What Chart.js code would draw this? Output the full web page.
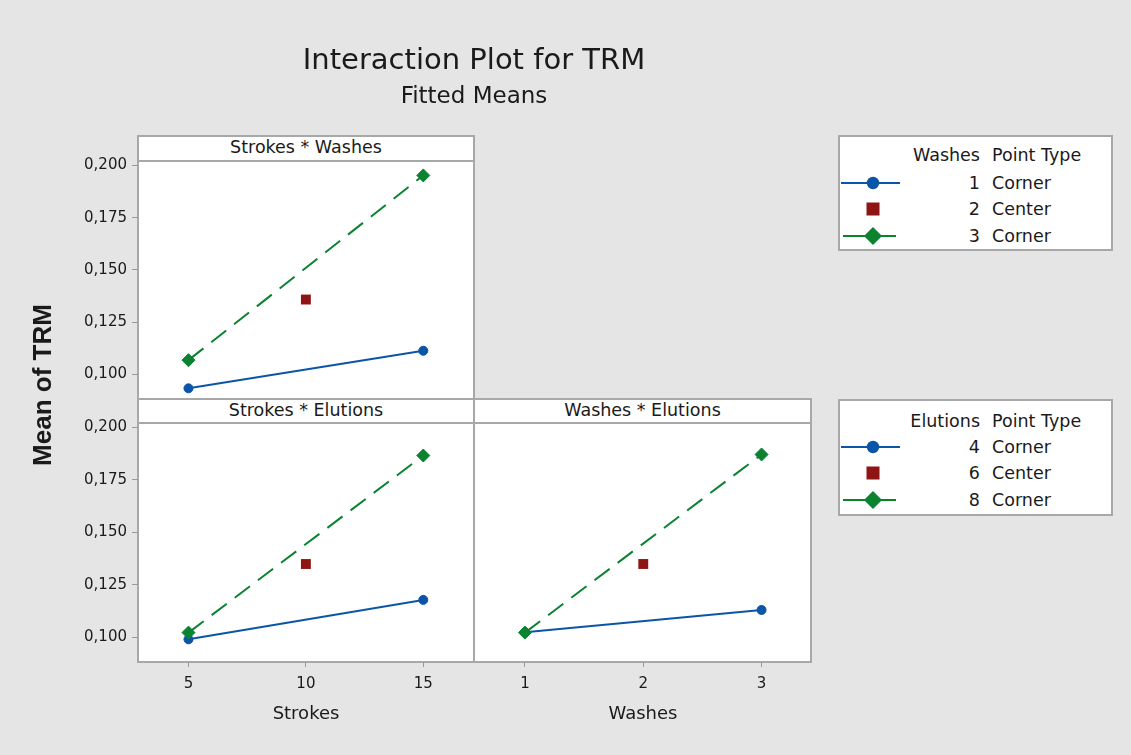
<!DOCTYPE html>
<html>
<head>
<meta charset="utf-8">
<title>Interaction Plot for TRM</title>
<script src="https://cdn.jsdelivr.net/npm/chart.js@4/dist/chart.umd.min.js"></script>
<style>
  html, body { margin: 0; padding: 0; }
  body { width: 1131px; height: 755px; background: #e5e5e5; position: relative; overflow: hidden;
         font-family: "DejaVu Sans", sans-serif; color: #1a1a1a; }
  canvas.layer { position: absolute; left: 0; top: 0; }
  .txt { position: absolute; white-space: nowrap; }
  .strip { position: absolute; box-sizing: border-box; background: #fff; border: 2px solid #a8a8a8;
           text-align: center; font-size: 17.5px; line-height: 20px; }
  .legend { position: absolute; box-sizing: border-box; background: #fff; border: 2px solid #a8a8a8; }
</style>
</head>
<body>
<canvas id="c1" class="layer" width="1131" height="755"></canvas>
<canvas id="c2" class="layer" width="1131" height="755"></canvas>
<canvas id="c3" class="layer" width="1131" height="755"></canvas>

<script>
// Factor levels
const strokesLevels = [5, 10, 15];
const washesLevels = [1, 2, 3];
const elutionsLevels = [4, 6, 8];
const pointTypes = ['Corner', 'Center', 'Corner'];
const yTicks = [0.100, 0.125, 0.150, 0.175, 0.200];

// Fitted means: corner series at low/high level, center point at middle level
// Strokes * Washes
const swWashes1 = [0.0933, 0.1113];
const swWashes2 = [0.1358];
const swWashes3 = [0.1068, 0.1952];
// Strokes * Elutions
const seElutions4 = [0.0990, 0.1178];
const seElutions6 = [0.1349];
const seElutions8 = [0.1022, 0.1866];
// Washes * Elutions
const weElutions4 = [0.1024, 0.1130];
const weElutions6 = [0.1349];
const weElutions8 = [0.1022, 0.1871];

const BLUE = '#0b55a8', RED = '#8f1515', GREEN = '#0a8230';
const FRAME = '#a8a8a8';
const FONT = 'DejaVu Sans';

const Y_MIN = 0.0882, Y_MAX = 0.2021;
const fmtY = v => Number(v).toFixed(3).replace('.', ',');

const panelFrame = {
  id: 'panelFrame',
  beforeDraw(chart) {
    const { ctx, chartArea: a } = chart;
    ctx.save();
    ctx.fillStyle = '#ffffff';
    ctx.fillRect(a.left, a.top, a.right - a.left, a.bottom - a.top);
    ctx.strokeStyle = FRAME;
    ctx.lineWidth = 2;
    ctx.strokeRect(a.left, a.top, a.right - a.left, a.bottom - a.top);
    ctx.restore();
  }
};

function series(levels, lo, mid, hi) {
  const low = levels[0], center = levels[1], high = levels[2];
  return [
    { label: 'high', data: [{ x: low, y: hi[0] }, { x: high, y: hi[1] }], showLine: true,
      borderColor: GREEN, backgroundColor: GREEN, borderWidth: 2, borderDash: [19, 10],
      pointStyle: 'rectRot', pointRadius: 6.5, pointBorderWidth: 1, order: 0 },
    { label: 'center', data: [{ x: center, y: mid[0] }], showLine: false,
      borderColor: RED, backgroundColor: RED, pointStyle: 'rect', pointRadius: 7, pointBorderWidth: 0, order: 1 },
    { label: 'low', data: [{ x: low, y: lo[0] }, { x: high, y: lo[1] }], showLine: true,
      borderColor: BLUE, backgroundColor: BLUE, borderWidth: 2,
      pointStyle: 'circle', pointRadius: 4.5, pointBorderWidth: 1, order: 2 }
  ];
}

function yAxis(show) {
  return {
    type: 'linear', min: Y_MIN, max: Y_MAX, display: show,
    afterBuildTicks: s => { s.ticks = yTicks.map(v => ({ value: v })); },
    afterFit: s => { s.width = show ? 58 : 0; },
    border: { display: false },
    grid: { drawOnChartArea: false, drawTicks: true, tickLength: 6, color: '#9a9a9a', lineWidth: 1 },
    ticks: { font: { family: FONT, size: 15 }, color: '#1a1a1a', padding: 5, callback: v => fmtY(v) }
  };
}

function xAxis(levels, min, max, show) {
  return {
    type: 'linear', min: min, max: max, display: show,
    afterBuildTicks: s => { s.ticks = levels.map(v => ({ value: v })); },
    afterFit: s => { s.height = show ? 40 : 0; },
    border: { display: false },
    grid: { drawOnChartArea: false, drawTicks: true, tickLength: 5, color: '#9a9a9a', lineWidth: 1 },
    ticks: { font: { family: FONT, size: 15 }, color: '#1a1a1a', padding: 8, maxRotation: 0,
             callback: v => String(v) }
  };
}

function panel(id, datasets, x, y, padding) {
  return new Chart(document.getElementById(id), {
    type: 'scatter',
    data: { datasets: datasets },
    options: {
      responsive: false, animation: false, events: [],
      layout: { padding: padding },
      plugins: { legend: { display: false }, tooltip: { enabled: false }, title: { display: false } },
      scales: { x: x, y: y }
    },
    plugins: [panelFrame]
  });
}

// Strokes * Washes (top left)
panel('c1', series(strokesLevels, swWashes1, swWashes2, swWashes3),
  xAxis(strokesLevels, 2.85, 17.16, false), yAxis(true),
  { left: 80, right: 657, top: 161, bottom: 356 });
// Strokes * Elutions (bottom left)
panel('c2', series(strokesLevels, seElutions4, seElutions6, seElutions8),
  xAxis(strokesLevels, 2.85, 17.16, true), yAxis(true),
  { left: 80, right: 657, top: 423, bottom: 53 });
// Washes * Elutions (bottom right)
panel('c3', series(washesLevels, weElutions4, weElutions6, weElutions8),
  xAxis(washesLevels, 0.569, 3.418, true), yAxis(false),
  { left: 474, right: 320, top: 423, bottom: 53 });

// Text, strip headers and legends
function addText(text, css) {
  const d = document.createElement('div');
  d.className = 'txt';
  d.textContent = text;
  Object.assign(d.style, css);
  document.body.appendChild(d);
  return d;
}
function addStrip(text, left, top, width, height) {
  const d = document.createElement('div');
  d.className = 'strip';
  d.textContent = text;
  Object.assign(d.style, { left: left + 'px', top: top + 'px', width: width + 'px', height: height + 'px' });
  document.body.appendChild(d);
}

addText('Interaction Plot for TRM', { left: '224px', width: '500px', top: '40px', textAlign: 'center',
  fontSize: '29px', lineHeight: '38px' });
addText('Fitted Means', { left: '324px', width: '300px', top: '81px', textAlign: 'center',
  fontSize: '23px', lineHeight: '28px' });

addStrip('Strokes * Washes', 137, 135, 338, 27);
addStrip('Strokes * Elutions', 137, 398, 338, 26);
addStrip('Washes * Elutions', 473, 398, 339, 26);

addText('Strokes', { left: '206px', width: '200px', top: '700px', textAlign: 'center', fontSize: '18px', lineHeight: '26px' });
addText('Washes', { left: '543px', width: '200px', top: '700px', textAlign: 'center', fontSize: '18px', lineHeight: '26px' });
addText('Mean of TRM', { left: '-58px', width: '200px', top: '370px', textAlign: 'center',
  fontFamily: '"Liberation Sans", sans-serif', fontWeight: 'bold', fontSize: '26px', lineHeight: '30px',
  transform: 'rotate(-90deg)' });

const SVGNS = 'http://www.w3.org/2000/svg';
function marker(kind, cx, cy) {
  const svg = document.createElementNS(SVGNS, 'svg');
  svg.setAttribute('width', '70'); svg.setAttribute('height', '24');
  Object.assign(svg.style, { position: 'absolute', left: (cx - 35) + 'px', top: (cy - 12) + 'px' });
  let inner = '';
  if (kind === 0) {
    inner = `<line x1="3" y1="12" x2="62" y2="12" stroke="${BLUE}" stroke-width="2"/>
             <circle cx="35" cy="12" r="6.2" fill="${BLUE}"/>`;
  } else if (kind === 1) {
    inner = `<rect x="28.5" y="5.5" width="13" height="13" fill="${RED}"/>`;
  } else {
    inner = `<line x1="5" y1="12" x2="58" y2="12" stroke="${GREEN}" stroke-width="2"/>
             <polygon points="35,3 44,12 35,21 26,12" fill="${GREEN}"/>`;
  }
  svg.innerHTML = inner;
  document.body.appendChild(svg);
}

function legendBox(top, height, factorName, levels, headerY, rowYs) {
  const box = document.createElement('div');
  box.className = 'legend';
  Object.assign(box.style, { left: '838px', top: top + 'px', width: '275px', height: height + 'px' });
  document.body.appendChild(box);
  const fs = '17.5px';
  addText(factorName, { left: '880px', width: '100px', top: (headerY - 12) + 'px', textAlign: 'right', fontSize: fs, lineHeight: '24px' });
  addText('Point Type', { left: '992px', top: (headerY - 12) + 'px', fontSize: fs, lineHeight: '24px' });
  levels.forEach((lv, i) => {
    marker(i, 873, rowYs[i]);
    addText(String(lv), { left: '900px', width: '80px', top: (rowYs[i] - 12) + 'px', textAlign: 'right', fontSize: fs, lineHeight: '24px' });
    addText(pointTypes[i], { left: '992px', top: (rowYs[i] - 12) + 'px', fontSize: fs, lineHeight: '24px' });
  });
}

legendBox(135, 116, 'Washes', washesLevels, 155, [183, 209, 236]);
legendBox(399, 117, 'Elutions', elutionsLevels, 421, [447, 473, 500]);
</script>
</body>
</html>
